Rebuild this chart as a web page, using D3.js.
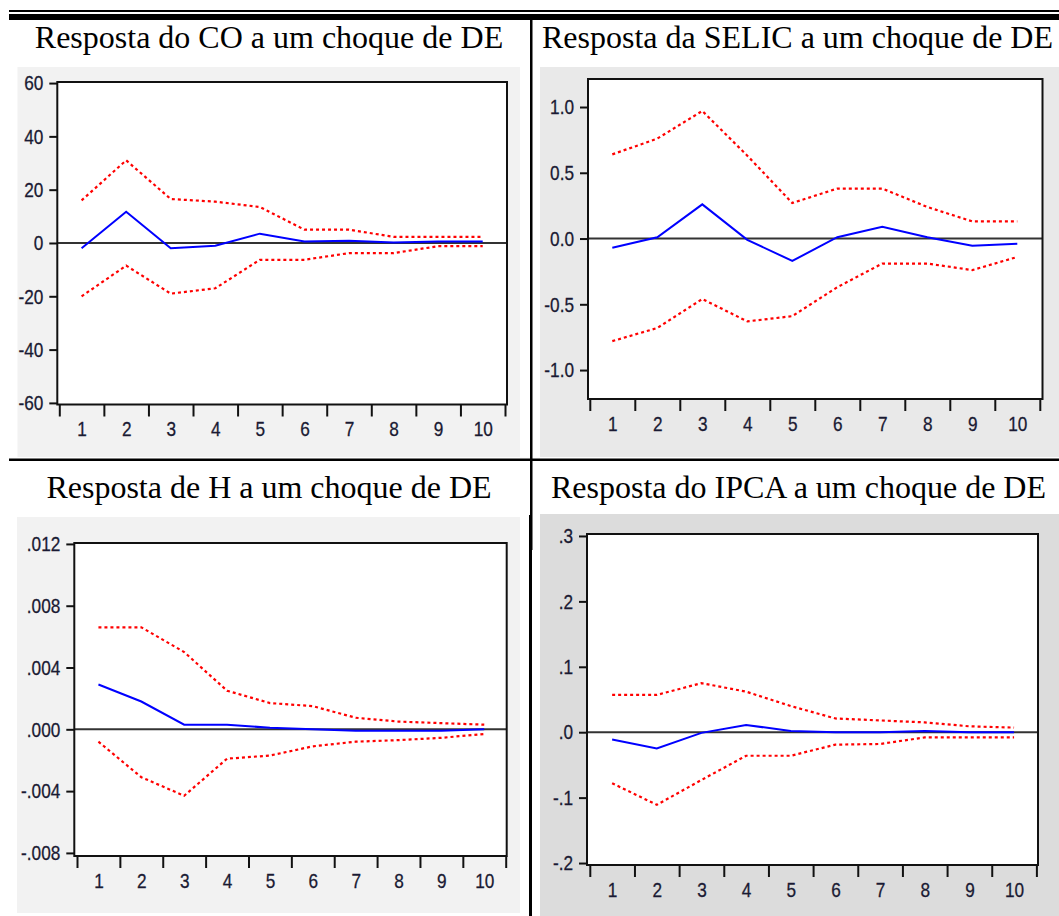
<!DOCTYPE html>
<html>
<head>
<meta charset="utf-8">
<script src="https://cdn.jsdelivr.net/npm/d3@7"></script>
<style>
    body { margin: 0; background: #fff; }
    .axis text { font-family: "Liberation Sans", Arial, sans-serif; font-size: 21px; fill: #1a1a33; stroke: #1a1a33; stroke-width: 0.3px; }
</style>
</head>
<body>
<div id="chart"></div>
<script>
// Horizon (periods after the shock)
const periods = [1, 2, 3, 4, 5, 6, 7, 8, 9, 10];

// Resposta do CO
const coResp  = [-2, 11.7, -2, -1, 3.5, 0.6, 0.8, 0.2, 0.6, 0.6];
const coUpper = [16, 31, 16.5, 15.5, 13.5, 5, 5, 2.3, 2.3, 2.3];
const coLower = [-20, -8.5, -19, -17, -6.3, -6.3, -3.8, -3.8, -1.2, -1.2];

// Resposta da SELIC
const selicResp  = [-0.07, 0.01, 0.26, -0.01, -0.17, 0.01, 0.09, 0.01, -0.055, -0.04];
const selicUpper = [0.64, 0.76, 0.97, 0.63, 0.27, 0.38, 0.38, 0.24, 0.13, 0.13];
const selicLower = [-0.78, -0.68, -0.46, -0.63, -0.59, -0.37, -0.19, -0.19, -0.24, -0.14];

// Resposta de H
const hResp  = [0.0029, 0.0018, 0.0003, 0.0003, 0.0001, 0.0, -0.0001, -0.0001, -0.0001, 0.0];
const hUpper = [0.0066, 0.0066, 0.005, 0.0025, 0.0017, 0.0015, 0.00075, 0.0005, 0.0004, 0.0003];
const hLower = [-0.0008, -0.0031, -0.0043, -0.0019, -0.0017, -0.0011, -0.0008, -0.0007, -0.00055, -0.0003];

// Resposta do IPCA
const ipcaResp  = [-0.011, -0.025, -0.001, 0.011, 0.002, 0, 0, 0.002, 0, 0];
const ipcaUpper = [0.057, 0.057, 0.075, 0.062, 0.04, 0.021, 0.018, 0.015, 0.009, 0.007];
const ipcaLower = [-0.078, -0.111, -0.073, -0.036, -0.036, -0.019, -0.018, -0.008, -0.008, -0.008];

// Y tick values
const coTicks    = [-60, -40, -20, 0, 20, 40, 60];
const selicTicks = [-1.0, -0.5, 0.0, 0.5, 1.0];
const hTicks     = [-0.008, -0.004, 0, 0.004, 0.008, 0.012];
const ipcaTicks  = [-0.2, -0.1, 0, 0.1, 0.2, 0.3];

const titles = [
    "Resposta do CO a um choque de DE",
    "Resposta da SELIC a um choque de DE",
    "Resposta de H a um choque de DE",
    "Resposta do IPCA a um choque de DE"
];

// plain hyphen for negatives, like the original
const loc = d3.formatLocale({ decimal: ".", thousands: ",", grouping: [3], currency: ["", ""], minus: "-" });
const noLead = f => d => loc.format(f)(d).replace("0.", ".");

const panels = [
    { title: titles[0], resp: coResp, upper: coUpper, lower: coLower, ticks: coTicks, fmt: loc.format("d"),
      bg: "#f2f2f2", box: [17.5, 67, 502.5, 390], plot: { l: 57.3, r: 507, t: 82, b: 404.5 },
      xr: [59.3, 505], yd: [-60.6, 60.4], tx: 269, ty: 48 },
    { title: titles[1], resp: selicResp, upper: selicUpper, lower: selicLower, ticks: selicTicks, fmt: loc.format(".1f"),
      bg: "#e9e9e9", box: [540, 67, 519, 390], plot: { l: 588, r: 1042.5, t: 79, b: 399 },
      xr: [589.8, 1039.8], yd: [-1.22, 1.213], tx: 797.5, ty: 48 },
    { title: titles[2], resp: hResp, upper: hUpper, lower: hLower, ticks: hTicks, fmt: noLead(".3f"),
      bg: "#f2f2f2", box: [17, 517, 503, 396], plot: { l: 74.3, r: 506.7, t: 543, b: 856 },
      xr: [77, 505.7], yd: [-0.0082, 0.01206], tx: 269, ty: 498 },
    { title: titles[3], resp: ipcaResp, upper: ipcaUpper, lower: ipcaLower, ticks: ipcaTicks, fmt: noLead(".1f"),
      bg: "#dcdcdc", box: [540, 514, 519, 402], plot: { l: 587, r: 1038, t: 534, b: 865 },
      xr: [589.8, 1036.4], yd: [-0.203, 0.303], tx: 798.5, ty: 498 }
];

const svg = d3.select("#chart")
    .append("svg")
    .attr("width", 1059)
    .attr("height", 916);

// gray chart areas first
panels.forEach(p => {
    svg.append("rect")
        .attr("x", p.box[0]).attr("y", p.box[1])
        .attr("width", p.box[2]).attr("height", p.box[3])
        .attr("fill", p.bg);
});

// table rules
svg.append("rect").attr("x", 9).attr("y", 10).attr("width", 1050).attr("height", 2).attr("fill", "#000");
svg.append("rect").attr("x", 9).attr("y", 14).attr("width", 1050).attr("height", 6).attr("fill", "#000");
svg.append("rect").attr("x", 9).attr("y", 458.5).attr("width", 1050).attr("height", 2.5).attr("fill", "#000");
svg.append("rect").attr("x", 530).attr("y", 20).attr("width", 2.5).attr("height", 530).attr("fill", "#000");
svg.append("rect").attr("x", 529).attr("y", 515).attr("width", 3).attr("height", 401).attr("fill", "#000");

panels.forEach(p => {
    const { l, r, t, b } = p.plot;
    const x = d3.scaleLinear().domain([0.5, 10.5]).range(p.xr);
    const y = d3.scaleLinear().domain(p.yd).range([b, t]);
    const g = svg.append("g");

    g.append("text")
        .attr("x", p.tx).attr("y", p.ty)
        .attr("text-anchor", "middle")
        .style("font-family", "'Liberation Serif'")
        .style("font-size", "32px")
        .attr("fill", "#000")
        .text(p.title);

    g.append("rect")
        .attr("x", l).attr("y", t)
        .attr("width", r - l).attr("height", b - t)
        .attr("fill", "#fff");

    // zero line
    g.append("line")
        .attr("x1", l).attr("x2", r)
        .attr("y1", y(0)).attr("y2", y(0))
        .attr("stroke", "#333")
        .attr("stroke-width", 2);

    const line = d3.line()
        .x((d, i) => x(periods[i]))
        .y(d => y(d));

    [p.upper, p.lower].forEach(band => {
        g.append("path")
            .datum(band)
            .attr("d", line)
            .attr("fill", "none")
            .attr("stroke", "#ff0000")
            .attr("stroke-width", 2.2)
            .attr("stroke-dasharray", "3,3");
    });

    g.append("path")
        .datum(p.resp)
        .attr("d", line)
        .attr("fill", "none")
        .attr("stroke", "#0000ff")
        .attr("stroke-width", 2);

    g.append("rect")
        .attr("x", l).attr("y", t)
        .attr("width", r - l).attr("height", b - t)
        .attr("fill", "none")
        .attr("stroke", "#111")
        .attr("stroke-width", 2);

    // tick marks between periods
    const xTicks = g.append("g")
        .attr("class", "axis")
        .attr("transform", `translate(0,${b})`)
        .call(d3.axisBottom(x)
            .tickValues(d3.range(0.5, 11, 1))
            .tickSize(12)
            .tickFormat(""));
    xTicks.select(".domain").remove();
    xTicks.selectAll("line").attr("stroke", "#111").attr("stroke-width", 2);

    // period labels centred in each slot
    const xLabels = g.append("g")
        .attr("class", "axis")
        .attr("transform", `translate(0,${b})`)
        .call(d3.axisBottom(x)
            .tickValues(periods)
            .tickSize(0)
            .tickPadding(17));
    xLabels.select(".domain").remove();
    xLabels.selectAll("text").attr("transform", "scale(0.82,1)").attr("fill", null);

    const yAxis = g.append("g")
        .attr("class", "axis")
        .attr("transform", `translate(${l},0)`)
        .call(d3.axisLeft(y)
            .tickValues(p.ticks)
            .tickSize(8)
            .tickFormat(p.fmt));
    yAxis.select(".domain").remove();
    yAxis.selectAll("line").attr("stroke", "#111").attr("stroke-width", 2);
    yAxis.selectAll("text")
        .attr("fill", null)
        .attr("transform", "scale(0.82,1)")
        .attr("x", -14 / 0.82);
});
</script>
</body>
</html>
